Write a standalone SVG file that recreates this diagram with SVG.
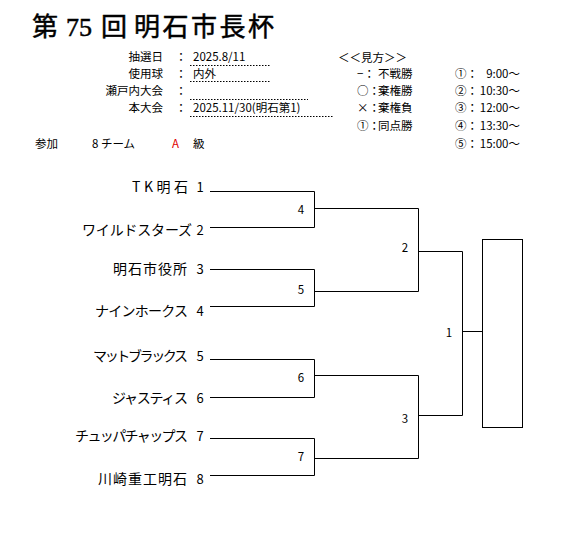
<svg xmlns="http://www.w3.org/2000/svg" width="563" height="536" viewBox="0 0 563 536">
<style>
text{font-family:"Noto Sans CJK JP","Liberation Sans",sans-serif;fill:#000}
.title{font-family:"Liberation Serif","Noto Sans CJK JP",serif;font-size:26px;stroke:#000;stroke-width:0.5}
.hd{font-size:11.5px}
.r{text-anchor:end}
.m{text-anchor:middle}
.team{font-size:14px;text-anchor:end}
.num{font-size:13px;text-anchor:middle}
.rd{font-size:11.5px;text-anchor:middle}
.dot{stroke:#000;stroke-width:1;stroke-dasharray:1.5 1.5;fill:none}
.ln{stroke:#000;stroke-width:1;fill:none}
</style>
<rect width="563" height="536" fill="#fff"/>
<g id="title">
<text class="title" x="32" y="36">第</text>
<text class="title" x="66" y="36">75</text>
<text class="title" x="101" y="36">回</text>
<text class="title" x="134" y="36" textLength="140">明石市長杯</text>
</g>
<g id="info">
<text class="hd r" x="163" y="61">抽選日</text>
<text class="hd r" x="163" y="78">使用球</text>
<text class="hd r" x="163" y="95">瀬戸内大会</text>
<text class="hd r" x="163" y="112">本大会</text>
<text class="hd m" x="181" y="61">：</text>
<text class="hd m" x="181" y="78">：</text>
<text class="hd m" x="181" y="95">：</text>
<text class="hd m" x="181" y="112">：</text>
<text class="hd" x="193" y="61">2025.8/11</text>
<text class="hd" x="193" y="78">内外</text>
<text class="hd" x="193" y="112">2025.11/30(明石第1)</text>
<line class="dot" x1="190" y1="65.5" x2="271" y2="65.5"/>
<line class="dot" x1="190" y1="81.5" x2="271" y2="81.5"/>
<line class="dot" x1="190" y1="99.5" x2="308" y2="99.5"/>
<line class="dot" x1="190" y1="116.5" x2="334" y2="116.5"/>
</g>
<g id="legend">
<text class="hd" x="338" y="62">＜＜見方＞＞</text>
<text class="hd" x="357" y="78">−：</text>
<text class="hd" x="357" y="95">○：</text>
<text class="hd" x="357" y="112">×：</text>
<text class="hd" x="357" y="130">①：</text>
<text class="hd" x="378" y="78">不戦勝</text>
<text class="hd" x="378" y="95">棄権勝</text>
<text class="hd" x="378" y="112">棄権負</text>
<text class="hd" x="378" y="130">同点勝</text>
<text class="hd" x="455" y="78">①：</text>
<text class="hd" x="455" y="95">②：</text>
<text class="hd" x="455" y="112">③：</text>
<text class="hd" x="455" y="130">④：</text>
<text class="hd" x="455" y="148">⑤：</text>
<text class="hd r" x="520" y="78">9:00～</text>
<text class="hd r" x="520" y="95">10:30～</text>
<text class="hd r" x="520" y="112">12:00～</text>
<text class="hd r" x="520" y="130">13:30～</text>
<text class="hd r" x="520" y="148">15:00～</text>
</g>
<g id="entry">
<text class="hd" x="35" y="148">参加</text>
<text class="hd" x="92" y="148">8 チーム</text>
<text class="hd" x="172" y="148" style="fill:#e00000">A</text>
<text class="hd" x="193" y="148">級</text>
</g>
<g id="connectors">
<path class="ln" d="M210 191.5H314.5V227.5H210M314.5 208.5H418.5"/>
<path class="ln" d="M210 269.5H314.5V306.5H210M314.5 291.5H418.5"/>
<path class="ln" d="M210 359.5H314.5V397.5H210M314.5 375.5H418.5"/>
<path class="ln" d="M210 438.5H314.5V475.5H210M314.5 458.5H418.5"/>
<path class="ln" d="M418.5 208.5V291.5M418.5 251.5H462.5"/>
<path class="ln" d="M418.5 375.5V458.5M418.5 415.5H462.5"/>
<path class="ln" d="M462.5 251.5V415.5M462.5 331.5H482.5"/>
</g>
<g id="team1"><text class="team" x="188" y="192" textLength="56">TK明石</text><text class="num" x="200" y="192">1</text></g>
<g id="team2"><text class="team" x="192" y="235" textLength="110">ワイルドスターズ</text><text class="num" x="200" y="235">2</text></g>
<g id="team3"><text class="team" x="187" y="274" textLength="74">明石市役所</text><text class="num" x="200" y="274">3</text></g>
<g id="team4"><text class="team" x="188" y="316" textLength="93">ナインホークス</text><text class="num" x="200" y="316">4</text></g>
<g id="team5"><text class="team" x="188" y="361" textLength="95">マットブラックス</text><text class="num" x="200" y="361">5</text></g>
<g id="team6"><text class="team" x="188" y="403" textLength="76">ジャスティス</text><text class="num" x="200" y="403">6</text></g>
<g id="team7"><text class="team" x="188" y="441" textLength="113">チュッパチャップス</text><text class="num" x="200" y="441">7</text></g>
<g id="team8"><text class="team" x="187" y="484" textLength="89">川崎重工明石</text><text class="num" x="200" y="484">8</text></g>
<g id="match4"><text class="rd" x="301" y="214">4</text></g>
<g id="match5"><text class="rd" x="301" y="294">5</text></g>
<g id="match6"><text class="rd" x="301" y="382">6</text></g>
<g id="match7"><text class="rd" x="301" y="461">7</text></g>
<g id="match2"><text class="rd" x="405" y="252">2</text></g>
<g id="match3"><text class="rd" x="405" y="423">3</text></g>
<g id="match1"><text class="rd" x="449" y="337">1</text></g>
<g id="winner"><rect class="ln" x="482.5" y="239.5" width="40" height="188"/></g>
</svg>
